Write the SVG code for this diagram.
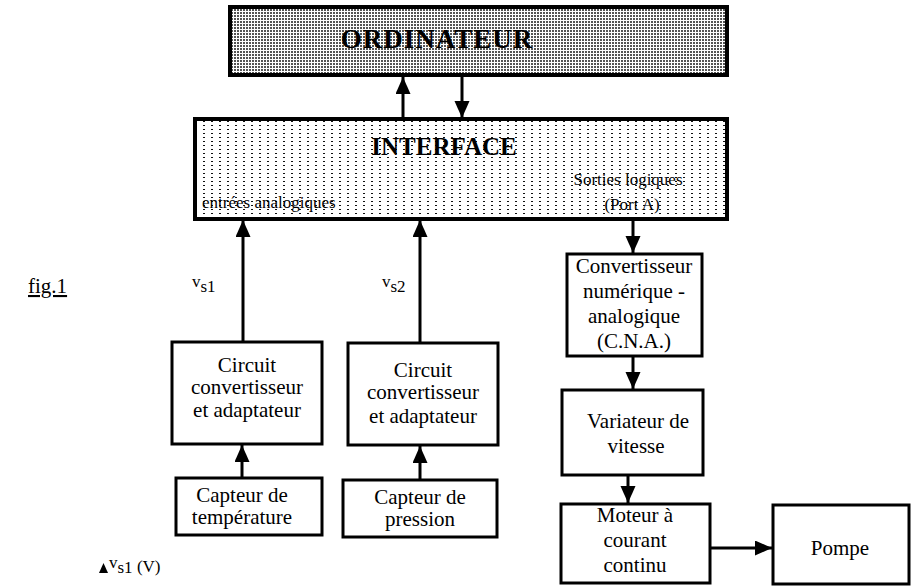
<svg xmlns="http://www.w3.org/2000/svg" width="921" height="586" viewBox="0 0 921 586">
<defs>
<pattern id="dense" width="3" height="3" patternUnits="userSpaceOnUse"><rect width="3" height="3" fill="#fff"/><rect width="2" height="2" fill="#555"/></pattern>
<pattern id="sparse" width="8" height="4" patternUnits="userSpaceOnUse"><rect width="8" height="4" fill="#fff"/><rect x="3" y="1" width="2" height="1" fill="#111"/></pattern>
<marker id="ah" markerUnits="userSpaceOnUse" markerWidth="18" markerHeight="16" refX="17" refY="7.5" orient="auto"><path d="M0,0 L17,7.5 L0,15 z" fill="#000"/></marker>
<style>
.box{fill:#fff;stroke:#000;stroke-width:3}
.t{font-family:"Liberation Serif",serif;font-size:21px;fill:#000;text-anchor:middle}
.l{font-family:"Liberation Serif",serif;font-size:17px;fill:#000}
.c{stroke:#000;stroke-width:3;fill:none;marker-end:url(#ah)}
</style>
</defs>
<rect width="921" height="586" fill="#fff"/>
<g id="ordinateur">
<rect x="230" y="7" width="497" height="68" fill="url(#dense)" stroke="#000" stroke-width="4"/>
<text x="437" y="48" style="font-family:'Liberation Serif',serif;font-size:27px;font-weight:bold;letter-spacing:1px;text-anchor:middle">ORDINATEUR</text>
</g>
<g id="interface">
<rect x="195" y="119" width="532" height="100" fill="url(#sparse)" stroke="#000" stroke-width="4"/>
<text x="444" y="155" style="font-family:'Liberation Serif',serif;font-size:25px;font-weight:bold;text-anchor:middle">INTERFACE</text>
<text x="202" y="208" class="l">entrées analogiques</text>
<text x="628" y="185" class="l" text-anchor="middle">Sorties logiques</text>
<text x="632" y="210" class="l" text-anchor="middle">(Port A)</text>
</g>
<g id="circuit1">
<rect x="172" y="342" width="150" height="102" class="box"/>
<text class="t" x="247" y="372">Circuit</text>
<text class="t" x="247" y="394">convertisseur</text>
<text class="t" x="247" y="417">et adaptateur</text>
</g>
<g id="circuit2">
<rect x="348" y="343" width="150" height="102" class="box"/>
<text class="t" x="423" y="377">Circuit</text>
<text class="t" x="423" y="399">convertisseur</text>
<text class="t" x="423" y="423">et adaptateur</text>
</g>
<g id="capteur1">
<rect x="176" y="478" width="146" height="57" class="box"/>
<text class="t" x="242" y="502">Capteur de</text>
<text class="t" x="242" y="524">température</text>
</g>
<g id="capteur2">
<rect x="343" y="480" width="154" height="57" class="box"/>
<text class="t" x="420" y="504">Capteur de</text>
<text class="t" x="420" y="526">pression</text>
</g>
<g id="cna">
<rect x="567" y="254" width="135" height="102" class="box"/>
<text class="t" x="634" y="273">Convertisseur</text>
<text class="t" x="634" y="298">numérique -</text>
<text class="t" x="634" y="323">analogique</text>
<text class="t" x="634" y="348">(C.N.A.)</text>
</g>
<g id="variateur">
<rect x="562" y="390" width="141" height="85" class="box"/>
<text class="t" x="638" y="428">Variateur de</text>
<text class="t" x="636" y="453">vitesse</text>
</g>
<g id="moteur">
<rect x="561" y="504" width="149" height="79" class="box"/>
<text class="t" x="635" y="522">Moteur à</text>
<text class="t" x="635" y="547">courant</text>
<text class="t" x="635" y="572">continu</text>
</g>
<g id="pompe">
<rect x="773" y="505" width="136" height="79" class="box"/>
<text class="t" x="840" y="555">Pompe</text>
</g>
<g id="connectors">
<line x1="403" y1="119" x2="403" y2="77" class="c"/>
<line x1="462" y1="75" x2="462" y2="118" class="c"/>
<line x1="243" y1="342" x2="243" y2="220" class="c"/>
<line x1="420" y1="343" x2="420" y2="220" class="c"/>
<line x1="242" y1="478" x2="242" y2="445" class="c"/>
<line x1="420" y1="480" x2="420" y2="446" class="c"/>
<line x1="633" y1="219" x2="633" y2="253" class="c"/>
<line x1="633" y1="356" x2="633" y2="389" class="c"/>
<line x1="628" y1="475" x2="628" y2="503" class="c"/>
<line x1="710" y1="548" x2="772" y2="548" class="c"/>
</g>
<g id="labels">
<text x="28" y="293" style="font-family:'Liberation Serif',serif;font-size:21px;text-decoration:underline">fig.1</text>
<text x="192" y="287" class="l">v<tspan dy="5">s1</tspan></text>
<text x="382" y="287" class="l">v<tspan dy="5">s2</tspan></text>
<path d="M99,573 L103.5,563 L108,573 z" fill="#000"/>
<text x="109" y="568" class="l">v<tspan dy="5">s1</tspan><tspan dy="-1"> (V)</tspan></text>
</g>
</svg>
